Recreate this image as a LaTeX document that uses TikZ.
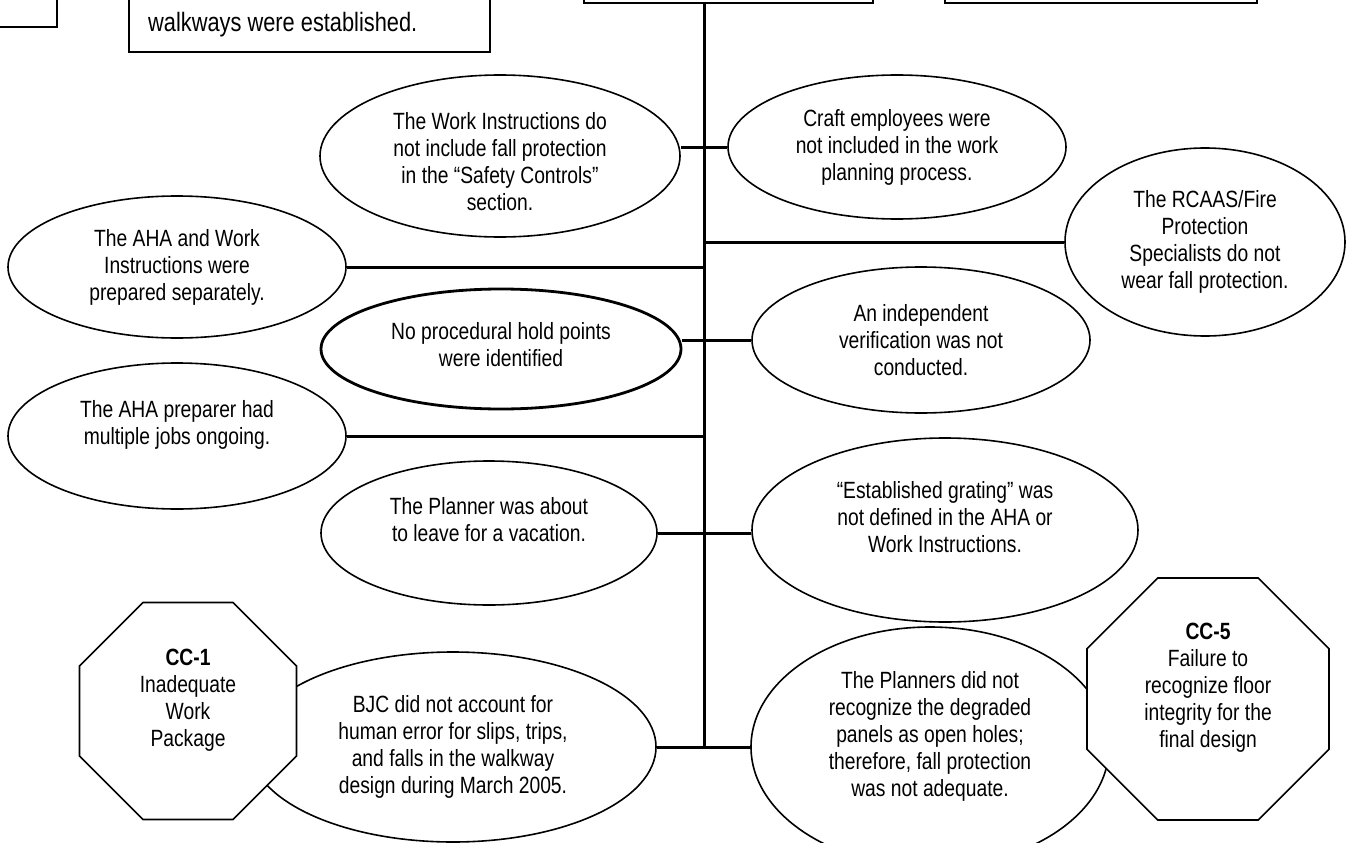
\documentclass[tikz,border=0pt]{standalone}
\usepackage{fontspec}
\setmainfont{Liberation Sans}[FakeStretch=0.82]
\usetikzlibrary{shapes.geometric}
\begin{document}
\begin{tikzpicture}[x=1pt,y=-1pt,
  every node/.style={font=\fontsize{23.5}{27}\selectfont},
  cause/.style={ellipse, draw, line width=1.6pt, fill=white, inner sep=0pt},
  ctr/.style={regular polygon, regular polygon sides=8, draw, line width=1.6pt, fill=white, inner sep=0pt},
  frame/.style={rectangle, draw, line width=1.7pt, fill=white, inner sep=0pt},
  txt/.style={align=center, inner sep=0pt},
  link/.style={line width=3pt}]
\useasboundingbox (0,0) rectangle (1352,843);
\clip (0,0) rectangle (1352,843);

% boxes along the top edge
\node[frame, minimum width=120pt, minimum height=94pt] (box1) at (-3,-20) {};
\node[frame, minimum width=361pt, minimum height=110pt] (box2) at (309.5,-3) {};
\node[anchor=base west, inner sep=0pt, font=\fontsize{26.6}{30}\selectfont] (box2t) at (148,32) {walkways were established.};
\node[frame, minimum width=289pt, minimum height=66pt] (box3) at (728.5,-30) {};
\node[frame, minimum width=312pt, minimum height=66pt] (box4) at (1101,-30) {};

% spine
\coordinate (sp) at (704,747);

% causes
\node[cause, minimum width=360pt, minimum height=162pt,
  label={[txt, yshift=-6pt]center:{The Work Instructions do\\not include fall protection\\in the “Safety Controls”\\section.}}] (A) at (500,156) {};
\node[cause, minimum width=338pt, minimum height=144pt,
  label={[txt]center:{Craft employees were\\not included in the work\\planning process.}}] (B) at (897,147) {};
\node[cause, minimum width=280pt, minimum height=188pt,
  label={[txt]center:{The RCAAS/Fire\\Protection\\Specialists do not\\wear fall protection.}}] (C) at (1205,242) {};
\node[cause, minimum width=338pt, minimum height=142pt,
  label={[txt]center:{The AHA and Work\\Instructions were\\prepared separately.}}] (D) at (177,267) {};
\node[cause, line width=2.8pt, minimum width=360pt, minimum height=120pt,
  label={[txt, yshift=4pt]center:{No procedural hold points\\were identified}}] (E) at (501,349) {};
\node[cause, minimum width=338pt, minimum height=146pt,
  label={[txt]center:{An independent\\verification was not\\conducted.}}] (F) at (921,340) {};
\node[cause, minimum width=338pt, minimum height=146pt,
  label={[txt]center:{The AHA preparer had\\multiple jobs ongoing.\\ \mbox{}}}] (I) at (177,436) {};
\node[cause, minimum width=336pt, minimum height=144pt,
  label={[txt]center:{The Planner was about\\to leave for a vacation.\\ \mbox{}}}] (H) at (489,533) {};
\node[cause, minimum width=386pt, minimum height=184pt,
  label={[txt]center:{“Established grating” was\\not defined in the AHA or\\Work Instructions.\\ \mbox{}}}] (G) at (945,530) {};
\node[cause, minimum width=406pt, minimum height=190pt,
  label={[txt]center:{BJC did not account for\\human error for slips, trips,\\and falls in the walkway\\design during March 2005.}}] (J) at (453,747) {};
\node[cause, minimum width=358pt, minimum height=240pt,
  label={[txt]center:{The Planners did not\\recognize the degraded\\panels as open holes;\\therefore, fall protection\\was not adequate.\\ \mbox{}}}] (K) at (930,747) {};

% contributing causes
\node[ctr, minimum size=234.9pt,
  label={[txt]center:{\textbf{CC-1}\\Inadequate\\Work\\Package\\ \mbox{}}}] (cc1) at (188,711) {};
\node[ctr, minimum size=262pt,
  label={[txt]center:{\textbf{CC-5}\\Failure to\\recognize floor\\integrity for the\\final design\\ \mbox{}}}] (cc5) at (1208,699) {};

% connectors
\draw[link] (box3.south -| sp) -- (sp);
\draw[link] (B) -- (B -| A.east);
\draw[link] (C) -- (C -| sp);
\draw[link] (D) -- (D -| sp);
\draw[link] (F) -- (F -| E.east);
\draw[link] (I) -- (I -| sp);
\draw[link] (H) -- (H -| G.west);
\draw[link] (J) -- (K);
\end{tikzpicture}
\end{document}
